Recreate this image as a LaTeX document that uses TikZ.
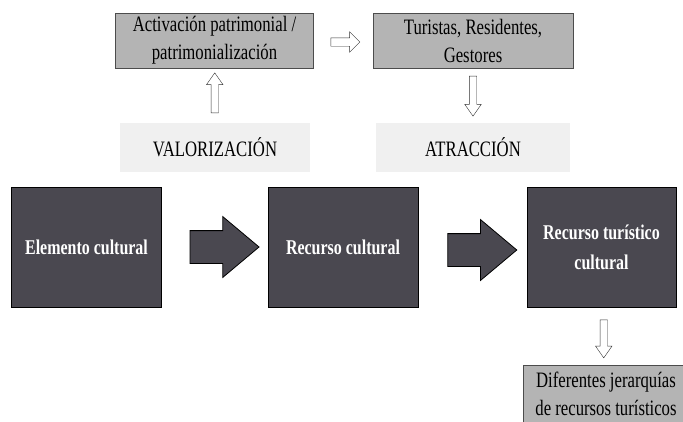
\documentclass[tikz,border=0pt]{standalone}
\usepackage{fontspec}
\setmainfont{Liberation Serif}[FakeStretch=0.76]
\usetikzlibrary{shapes.arrows,calc}
\definecolor{cdark}{HTML}{4A4850}
\definecolor{cmid}{HTML}{B4B4B4}
\definecolor{cpale}{HTML}{F0F0F0}
\tikzset{
  etapa/.style={draw=black, line width=1pt, fill=cdark, text=white, align=center,
    minimum width=150pt, minimum height=120pt, inner sep=0pt,
    font=\fontsize{21}{30}\selectfont\bfseries},
  actor/.style={draw=gray!60!black, fill=cmid, align=center, inner sep=0pt,
    minimum width=198pt, minimum height=55pt, font=\fontsize{22}{28}\selectfont},
  proceso/.style={fill=cpale, inner sep=0pt, minimum width=190pt, minimum height=49pt,
    font=\fontsize{22}{28}\selectfont},
  flecha/.style={single arrow, draw=black, line width=0.8pt, fill=cdark,
    inner xsep=0pt, inner ysep=16pt, minimum height=69pt,
    single arrow head extend=14pt, single arrow tip angle=80},
  flechita/.style={single arrow, draw=gray!40!black, fill=white,
    inner xsep=3.5pt, inner ysep=0pt, single arrow head extend=4.5pt,
    single arrow tip angle=70}
}
\begin{document}
\begin{tikzpicture}[x=1pt,y=-1pt]
    \useasboundingbox (0,0) rectangle (683,421);
    % etapas
    \node[etapa] (elemento) at (86.5,247) {Elemento cultural};
    \node[etapa] (recurso) at (343,247) {Recurso cultural};
    \node[etapa, minimum width=149pt] (turistico) at (601.5,247) {Recurso turístico\\cultural};
    % actores y procesos
    \node[actor] (activacion) at (214.5,40.5) {Activación patrimonial /\\patrimonialización};
    \node[actor, minimum width=200pt] (turistas) at (473,40.5) {Turistas, Residentes,\\Gestores};
    \node[proceso] (valorizacion) at (215,147.5) {VALORIZACIÓN};
    \node[proceso, minimum width=194pt] (atraccion) at (473,147.5) {ATRACCIÓN};
    \node[actor, anchor=north, minimum width=166pt, minimum height=57pt] (jerarquias)
      at (606,365) {Diferentes jerarquías\\de recursos turísticos};
    % flechas
    \node[flecha] (fl1) at ($(elemento.east)!0.5!(recurso.west)$) {};
    \node[flecha] (fl2) at ($(recurso.east)!0.5!(turistico.west)+(0,3)$) {};
    \node[flechita, minimum height=29pt, inner xsep=0pt, inner ysep=4pt,
      single arrow head extend=6pt, single arrow tip angle=90] (fl3)
      at ($(activacion.east)!0.5!(turistas.west)+(0,1.5)$) {};
    \node[flechita, minimum height=40pt, shape border rotate=90] (fl4)
      at ($(valorizacion.north)!0.5!(activacion.south)$) {};
    \node[flechita, minimum height=40pt, shape border rotate=270] (fl5)
      at ($(turistas.south)!0.5!(atraccion.north)+(0,-2)$) {};
    \node[flechita, minimum height=38pt, shape border rotate=270] (fl6)
      at ($(turistico.south)!0.5!(jerarquias.north)$) {};
\end{tikzpicture}
\end{document}
